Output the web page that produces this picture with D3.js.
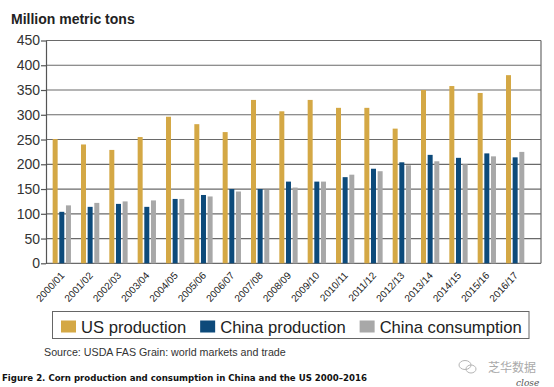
<!DOCTYPE html>
<html>
<head>
<meta charset="utf-8">
<script src="https://cdn.jsdelivr.net/npm/d3@7"></script>
<style>
  body { margin: 0; background: #fff; }
  svg { display: block; }
</style>
</head>
<body>
<div id="chart"></div>
<script>
// data (million metric tons)
var years = ["2000/01", "2001/02", "2002/03", "2003/04", "2004/05", "2005/06",
  "2006/07", "2007/08", "2008/09", "2009/10", "2010/11", "2011/12",
  "2012/13", "2013/14", "2014/15", "2015/16", "2016/17"];
var usProduction = [251, 240, 229, 255, 296, 281, 265, 330, 307, 330, 314, 314, 272, 350, 358, 344, 380];
var chinaProduction = [104, 114, 120, 114, 130, 138, 150, 150, 165, 165, 174, 191, 204, 219, 213, 222, 214];
var chinaConsumption = [117, 122, 125, 127, 130, 135, 145, 148, 153, 165, 179, 186, 198, 206, 200, 216, 225];
var seriesNames = ["US production", "China production", "China consumption"];
var seriesColors = ["#d4a845", "#0d4a7a", "#a8a8a8"];
var yTicks = [0, 50, 100, 150, 200, 250, 300, 350, 400, 450];

var width = 554, height = 387;
var plotLeft = 46, plotRight = 541, plotTop = 40.5, plotBottom = 263.3;

document.addEventListener('DOMContentLoaded', function () {
  draw();
}, false);

function draw() {
  var svg = d3.select("#chart").append("svg")
    .attr("width", width)
    .attr("height", height);

  var rows = years.map(function(y, i) {
    return { year: y, values: [usProduction[i], chinaProduction[i], chinaConsumption[i]] };
  });

  var x = d3.scaleBand().domain(years).range([plotLeft, plotRight])
    .paddingInner(0).paddingOuter(0.235);
  var x1 = d3.scaleBand().domain(seriesNames).range([0, 18.3])
    .paddingInner(0.25).paddingOuter(0);
  var y = d3.scaleLinear().domain([0, 450]).range([plotBottom, plotTop]);

  // title
  svg.append("text")
    .attr("x", 11).attr("y", 24)
    .style("font-family", "'Liberation Sans', Arial, sans-serif")
    .style("font-size", "14px")
    .style("font-weight", "bold")
    .style("fill", "#222")
    .text("Million metric tons");

  // gridlines
  svg.append("g")
    .selectAll("line")
    .data(yTicks)
    .enter()
    .append("line")
    .attr("x1", plotLeft).attr("x2", plotRight)
    .attr("y1", function(d){ return y(d); })
    .attr("y2", function(d){ return y(d); })
    .style("stroke", "#6a6a6a")
    .style("stroke-width", 1.2);

  // right border
  svg.append("line")
    .attr("x1", plotRight).attr("x2", plotRight)
    .attr("y1", y(450)).attr("y2", y(0))
    .style("stroke", "#6a6a6a")
    .style("stroke-width", 1.2);

  // bars
  var groups = svg.append("g")
    .selectAll("g")
    .data(rows)
    .enter()
    .append("g")
    .attr("transform", function(d){ return "translate(" + x(d.year) + ",0)"; });

  groups.selectAll("rect")
    .data(function(d){ return d.values.map(function(v, j){ return { name: seriesNames[j], value: v, color: seriesColors[j] }; }); })
    .enter()
    .append("rect")
    .attr("x", function(d){ return x1(d.name); })
    .attr("width", x1.bandwidth())
    .attr("y", function(d){ return y(d.value); })
    .attr("height", function(d){ return y(0) - y(d.value); })
    .style("fill", function(d){ return d.color; });

  // y axis
  var yAxis = svg.append("g")
    .attr("transform", "translate(" + plotLeft + ",0)")
    .call(d3.axisLeft(y).tickValues(yTicks).tickSize(5).tickPadding(1).tickSizeOuter(0));
  yAxis.select(".domain").style("stroke", "#555").style("stroke-width", 1.2);
  yAxis.selectAll(".tick line").style("stroke", "#555").style("stroke-width", 1.2);
  yAxis.selectAll("text")
    .style("font-family", "'Liberation Sans', Arial, sans-serif")
    .style("font-size", "14px")
    .style("fill", "#333");

  // x labels
  svg.append("g")
    .selectAll("text")
    .data(years)
    .enter()
    .append("text")
    .attr("transform", function(d){
      return "translate(" + (x(d) + 12.5) + "," + 276 + ") rotate(-47)";
    })
    .attr("text-anchor", "end")
    .style("font-family", "'Liberation Sans', Arial, sans-serif")
    .style("font-size", "10px")
    .style("fill", "#222")
    .text(function(d){ return d; });

  // legend
  var legend = svg.append("g");
  legend.append("rect")
    .attr("x", 52.5).attr("y", 311.5)
    .attr("width", 476.5).attr("height", 27)
    .style("fill", "#fff")
    .style("stroke", "#666")
    .style("stroke-width", 1);

  var lx = 61;
  seriesNames.forEach(function(name, i){
    legend.append("rect")
      .attr("x", lx).attr("y", 320.5)
      .attr("width", 15).attr("height", 12)
      .style("fill", seriesColors[i]);
    var t = legend.append("text")
      .attr("x", lx + 20).attr("y", 333)
      .style("font-family", "'Liberation Sans', Arial, sans-serif")
      .style("font-size", "16.6px")
      .style("fill", "#222")
      .text(name);
    lx = lx + 20 + t.node().getComputedTextLength() + 14;
  });

  // source note
  svg.append("text")
    .attr("x", 44).attr("y", 356)
    .style("font-family", "'Liberation Sans', Arial, sans-serif")
    .style("font-size", "10.7px")
    .style("fill", "#333")
    .text("Source: USDA FAS Grain: world markets and trade");

  // figure caption
  svg.append("text")
    .attr("x", 2).attr("y", 381)
    .style("font-family", "'DejaVu Sans', Verdana, sans-serif")
    .style("font-size", "8.6px")
    .style("font-weight", "bold")
    .style("fill", "#111")
    .text("Figure 2. Corn production and consumption in China and the US 2000\u20132016");

  // watermark
  var wm = svg.append("g").style("fill", "none").style("stroke", "#b5b5b5").style("stroke-width", 1);
  wm.append("ellipse").attr("cx", 465).attr("cy", 365).attr("rx", 6).attr("ry", 4.5);
  wm.append("ellipse").attr("cx", 471).attr("cy", 369).attr("rx", 5).attr("ry", 4);
  svg.append("text")
    .attr("x", 488).attr("y", 372)
    .style("font-family", "'Noto Sans CJK SC', sans-serif")
    .style("font-size", "12px")
    .style("fill", "#aaa")
    .text("芝华数据");
  svg.append("text")
    .attr("x", 516).attr("y", 386)
    .style("font-family", "'DejaVu Serif', serif")
    .style("font-style", "italic")
    .style("font-size", "9px")
    .style("fill", "#555")
    .text("close");
}
</script>
</body>
</html>
